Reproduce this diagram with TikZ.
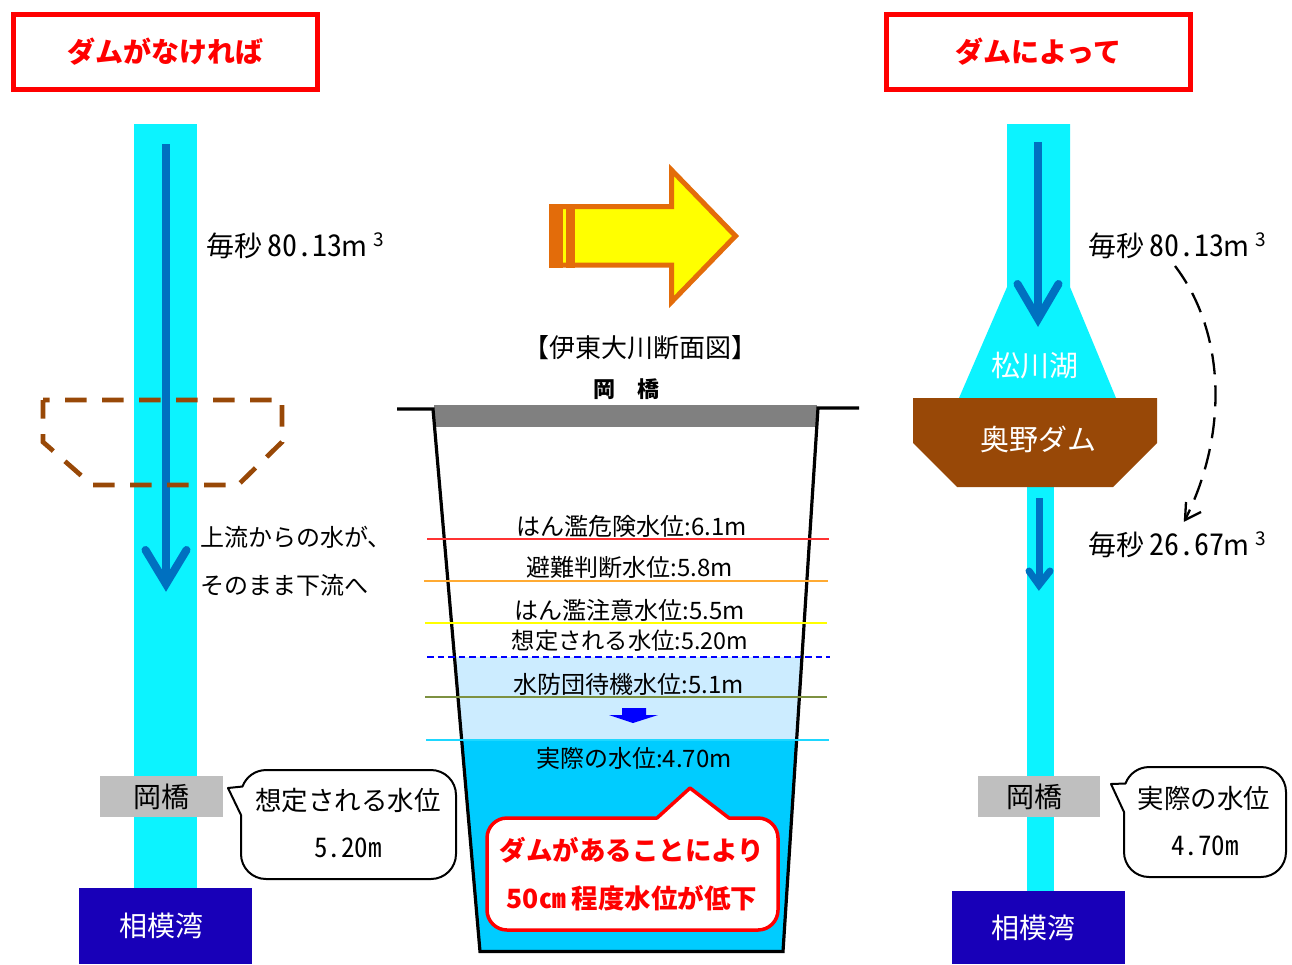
\documentclass[tikz,border=0pt]{standalone}
\usepackage{fontspec}
\setmainfont{Noto Sans CJK JP}
\newfontfamily\halfw[RawFeature=+hwid]{Noto Sans CJK JP}
\usetikzlibrary{arrows.meta}
\definecolor{river}{HTML}{0CF3FF}
\definecolor{flow}{HTML}{0070C0}
\definecolor{damb}{HTML}{984807}
\definecolor{bay}{HTML}{1800B8}
\definecolor{bridge}{HTML}{BFBFBF}
\definecolor{orng}{HTML}{E36C0A}
\definecolor{shallow}{HTML}{CCECFF}
\definecolor{deep}{HTML}{00CCFF}
\definecolor{yel}{HTML}{FFFF00}
\definecolor{blu}{HTML}{0000FF}
\definecolor{rd}{HTML}{FF0000}
\definecolor{grayb}{HTML}{808080}
\newcommand{\flowq}[2]{毎秒\hspace{5pt}{\fontsize{30}{30}\selectfont\halfw #1}\hspace{-1pt}m\hspace{6pt}\raisebox{10.5pt}{\fontsize{19}{19}\selectfont 3}}
\tikzset{
  x=1pt,y=-1pt,
  lab/.style={inner sep=0pt,anchor=center,font=\fontsize{#1}{#1}\selectfont},
  lab/.default=24,
  title/.style={draw=rd,line width=5pt,fill=white,inner sep=0pt,minimum width=304pt,minimum height=75pt,text=rd,font=\fontsize{28}{28}\selectfont\bfseries},
  place/.style={fill=bridge,inner sep=0pt,minimum height=41pt,font=\fontsize{28}{28}\selectfont},
  baybox/.style={fill=bay,inner sep=0pt,text=white,font=\fontsize{28}{28}\selectfont},
  flowline/.style={draw=flow,line width=8pt},
  flowhead/.style={draw=flow,line width=8pt,line cap=round,line join=miter,miter limit=10},
  level/.style={line width=2pt},
  speech/.style={draw=black,line width=2pt,fill=white,line join=round},
  half/.style={inner sep=0pt,anchor=center,font=\fontsize{28}{28}\selectfont},
  halfsmall/.style={inner sep=0pt,anchor=center,font=\fontsize{27}{27}\selectfont\halfw},
}
\begin{document}
\begin{tikzpicture}
\useasboundingbox (0,0) rectangle (1292,964);
% titles
\node[title] (t1) at (165.5,51.5) {ダムがなければ};
\node[title] (t2) at (1038.5,51.5) {ダムによって};
% left river
\fill[river] (134,124) rectangle (197,890);
\coordinate (la) at (166,144);
\coordinate (lb) at (166,584);
\draw[flowline] (la) -- (lb);
\draw[flowhead] (145.5,550) -- (lb) -- (186.5,550);
\draw[damb,line width=4.7pt,dash pattern=on 21.5pt off 15.5pt,dash phase=15pt] (43,400) -- (282,400) -- (282,442) -- (238,485) -- (92,485) -- (43,442) -- cycle;
\node[half,anchor=west] (q0) at (206,246) {\flowq{80.13}{}};
\node[lab=24,anchor=west] (n1) at (200,537) {上流からの水が、};
\node[lab=24,anchor=west] (n2) at (200,585) {そのまま下流へ};
\node[place,minimum width=123pt] (br1) at (161.5,796.5) {岡橋};
\node[baybox,minimum width=173pt,minimum height=76pt] (bay1) at (165.5,926) {\raisebox{-2pt}{相模湾}\kern9pt};
% left callout
\draw[speech] (266,770) -- (431,770) arc[start angle=-90,end angle=0,radius=25] -- (456,854) arc[start angle=0,end angle=90,radius=25] -- (266,879) arc[start angle=90,end angle=180,radius=25] -- (241,815) -- (228,788) -- (242.5,786.5) arc[start angle=200,end angle=270,radius=25] -- cycle;
\node[lab=26.5] (c1a) at (348,800) {想定される水位};
\node[halfsmall] (c1b) at (348,848) {5.20m};
% right river and lake
\fill[river] (1007,124) -- (1070,124) -- (1070,287) -- (1116,398) -- (959,398) -- (1007,287) -- cycle;
\fill[river] (1027,487) rectangle (1054,893);
\coordinate (ra) at (1038,142);
\coordinate (rb) at (1038,319);
\draw[flowline] (ra) -- (rb);
\draw[flowhead] (1017.5,284) -- (rb) -- (1058.5,284);
\fill[damb] (913,398) -- (1157,398) -- (1157,443) -- (1113,487) -- (957,487) -- (913,443) -- cycle;
\node[lab=29,text=white] (lake) at (1035,366) {松川湖};
\node[lab=29,text=white] (dam) at (1038,439) {奥野ダム};
\coordinate (rc) at (1039,498);
\coordinate (rd) at (1039,585);
\draw[flowline,line width=7pt] (rc) -- (rd);
\draw[flowhead,line width=7pt] (1029,571) -- (rd) -- (1050,571);
\node[half,anchor=west] (q1) at (1088,246) {\flowq{80.13}{}};
\node[half,anchor=west] (q2) at (1088,545) {\flowq{26.67}{}};
\coordinate (da) at (1175,266);
\coordinate (db) at (1185,520);
\draw[line width=2.3pt,dash pattern=on 21pt off 11pt] (da) .. controls (1224,330) and (1230,430) .. (db);
\draw[line width=2.3pt,line join=miter] (1186,502) -- (db) -- (1201,512);
\node[place,minimum width=122pt] (br2) at (1039,796.5) {岡橋\kern9pt};
\node[baybox,minimum width=173pt,minimum height=73pt] (bay2) at (1038.5,927.5) {相模湾\kern11pt};
% right callout
\draw[speech] (1149,767) -- (1261,767) arc[start angle=-90,end angle=0,radius=25] -- (1286,852) arc[start angle=0,end angle=90,radius=25] -- (1149,877) arc[start angle=90,end angle=180,radius=25] -- (1124,812) -- (1111,784) -- (1125.5,783.5) arc[start angle=200,end angle=270,radius=25] -- cycle;
\node[lab=26.5] (c2a) at (1204,798) {実際の水位};
\node[halfsmall] (c2b) at (1205,846) {4.70m};
% big arrow
\draw[orng,line width=5pt,fill=yel,miter limit=10] (551.5,206.5) -- (671.5,206.5) -- (671.5,170) -- (735.5,236) -- (671.5,302) -- (671.5,265) -- (551.5,265) -- cycle;
\fill[orng] (549,204) rectangle (563,267.5);
\fill[orng] (566,204) rectangle (575,267.5);
% section
\node[lab=26] (sect) at (640,348) {【伊東大川断面図】};
\node[lab=24,font=\fontsize{22}{22}\selectfont\bfseries] (oka) at (626,389) {岡　橋};
\begin{scope}
\clip (433,409) -- (818,409) -- (783,951) -- (480,951) -- cycle;
\fill[shallow] (420,657) rectangle (840,740);
\fill[deep] (420,740) rectangle (840,955);
\end{scope}
\fill[grayb] (434,405) rectangle (817,427);
\draw[line width=3.2pt,line join=miter] (397,409) -- (433,409) -- (480,951.5) -- (783,951.5) -- (818,408) -- (859,408);
\coordinate (l1a) at (427,539); \coordinate (l1b) at (829,539);
\coordinate (l2a) at (424,580.5); \coordinate (l2b) at (828,580.5);
\coordinate (l3a) at (425,623); \coordinate (l3b) at (827,623);
\coordinate (l4a) at (427,656.5); \coordinate (l4b) at (830,656.5);
\coordinate (l5a) at (425,697); \coordinate (l5b) at (827,697);
\coordinate (l6a) at (426,739.5); \coordinate (l6b) at (829,739.5);
\draw[level,color={rgb,255:red,255;green,50;blue,50}] (l1a) -- (l1b);
\draw[level,color={rgb,255:red,255;green,170;blue,50}] (l2a) -- (l2b);
\draw[level,color=yel] (l3a) -- (l3b);
\draw[level,color=blu,dash pattern=on 6.5pt off 4pt] (l4a) -- (l4b);
\draw[level,color={rgb,255:red,125;green,145;blue,65}] (l5a) -- (l5b);
\draw[level,color={rgb,255:red,30;green,215;blue,255}] (l6a) -- (l6b);
\node[lab=24] (w1) at (632,526) {はん濫危険水位:6.1m};
\node[lab=24] (w2) at (630,567) {避難判断水位:5.8m};
\node[lab=24] (w3) at (630,610) {はん濫注意水位:5.5m};
\node[lab=23.3] (w4) at (630,641) {想定される水位:5.20m};
\node[lab=24] (w5) at (629,684) {水防団待機水位:5.1m};
\node[lab=24] (w6) at (634,758) {実際の水位:4.70m};
\fill[blu] (622,708) -- (646,708) -- (646,715) -- (658,715) -- (633,723) -- (609,715) -- (622,715) -- cycle;
% red callout
\draw[rd,line width=3.5pt,fill=white,line join=round] (507,818) -- (657,818) -- (690,788) -- (729,818) -- (758,818) arc[start angle=-90,end angle=0,radius=20] -- (778,910) arc[start angle=0,end angle=90,radius=20] -- (507,930) arc[start angle=90,end angle=180,radius=20] -- (487,838) arc[start angle=180,end angle=270,radius=20] -- cycle;
\node[lab=26,text=rd,font=\fontsize{26.5}{26.5}\selectfont\bfseries] (r1) at (632,850) {ダムがあることにより};
\node[lab=26,text=rd,font=\fontsize{26.5}{26.5}\selectfont\bfseries] (r2) at (632,898) {50㎝ 程度水位が低下};
\end{tikzpicture}
\end{document}
